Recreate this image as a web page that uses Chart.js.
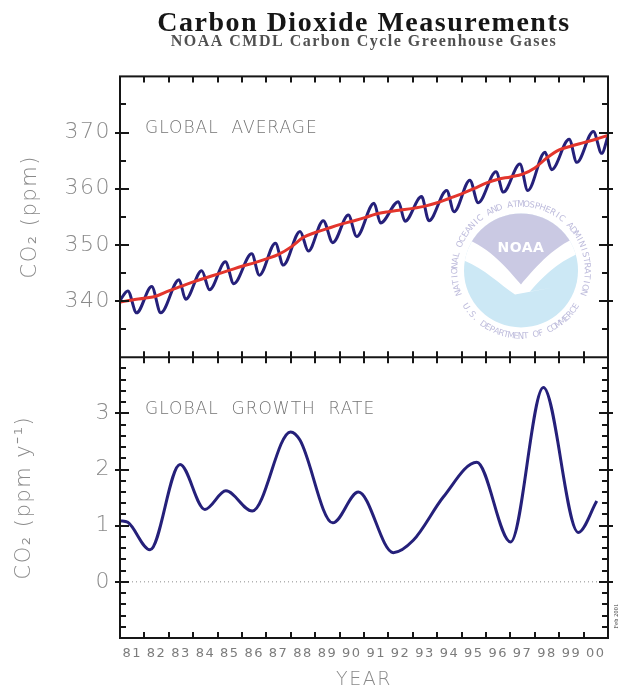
<!DOCTYPE html>
<html>
<head>
<meta charset="utf-8">
<script src="https://cdn.jsdelivr.net/npm/chart.js@4.4.1/dist/chart.umd.min.js"></script>
<style>
  html, body { margin: 0; padding: 0; background: #fff; }
  #wrap { width: 620px; height: 690px; }
</style>
</head>
<body>
<div id="wrap"><canvas id="c"></canvas></div>
<script>
// Global average CO2: seasonal maxima and minima of the monthly record (ppm)
const cycleYears = [
  1981.00, 1981.32, 1981.68, 1982.30, 1982.67, 1983.42, 1983.69, 1984.35, 1984.67,
  1985.32, 1985.66, 1986.40, 1986.71, 1987.37, 1987.69, 1988.38, 1988.72, 1989.33,
  1989.72, 1990.36, 1990.70, 1991.41, 1991.68, 1992.41, 1992.68, 1993.36, 1993.66,
  1994.39, 1994.69, 1995.34, 1995.68, 1996.41, 1996.71, 1997.39, 1997.71, 1998.42,
  1998.69, 1999.41, 1999.72, 2000.40, 2000.74, 2001.00
];
const cycleValues = [
  340.1, 341.8, 337.9, 342.6, 337.9, 343.8, 340.3, 345.4, 342.0,
  347.0, 343.1, 348.4, 344.6, 350.3, 346.4, 352.4, 348.9, 354.3,
  350.4, 355.3, 351.5, 357.4, 353.9, 357.7, 354.2, 358.6, 354.3,
  359.7, 355.9, 361.5, 357.5, 363.0, 359.4, 364.4, 359.7, 366.5,
  363.4, 368.8, 364.7, 370.2, 366.3, 369.4
];

// Deseasonalized trend (ppm)
const trendYears = [
  1981.0, 1981.5, 1982.0, 1982.5, 1983.0, 1983.5, 1984.0, 1984.5, 1985.0, 1985.5,
  1986.0, 1986.5, 1987.0, 1987.5, 1988.0, 1988.5, 1989.0, 1989.5, 1990.0, 1990.5,
  1991.0, 1991.5, 1992.0, 1992.5, 1993.0, 1993.5, 1994.0, 1994.5, 1995.0, 1995.5,
  1996.0, 1996.5, 1997.0, 1997.5, 1998.0, 1998.5, 1999.0, 1999.5, 2000.0, 2000.5,
  2001.0
];
const trendValues = [
  339.8, 340.2, 340.5, 340.9, 341.8, 342.6, 343.4, 344.1, 344.8, 345.5,
  346.2, 346.8, 347.5, 348.3, 349.6, 351.3, 352.2, 352.9, 353.6, 354.2,
  354.8, 355.5, 355.9, 356.2, 356.5, 356.9, 357.5, 358.3, 359.1, 360.0,
  361.0, 361.7, 362.1, 362.6, 363.7, 365.5, 366.9, 367.6, 368.2, 368.8,
  369.5
];

// Global growth rate (ppm per year)
const rateYears = [
  1981.00, 1981.32, 1982.23, 1983.46, 1984.48, 1985.34, 1986.42, 1987.99, 1988.38,
  1989.72, 1990.77, 1992.20, 1993.02, 1994.25, 1995.62, 1997.01, 1998.35, 1999.78,
  2000.54
];
const rateValues = [
  1.09, 1.06, 0.57, 2.09, 1.29, 1.62, 1.26, 2.67, 2.52,
  1.05, 1.60, 0.52, 0.74, 1.51, 2.13, 0.71, 3.46, 0.88,
  1.44
];

// Axis labels
const yearLabels = ['81','82','83','84','85','86','87','88','89','90',
                    '91','92','93','94','95','96','97','98','99','00'];
const co2Ticks = [340, 350, 360, 370];
const rateTicks = [0, 1, 2, 3];

const pairs = (xs, ys) => xs.map((x, i) => ({ x: x, y: ys[i] }));

const INK = '#161616';
const GREY = '#8a8a8a';
const FAMILY = '"DejaVu Sans", sans-serif';

function seg(ctx, x1, y1, x2, y2) {
  ctx.beginPath();
  ctx.moveTo(x1, y1);
  ctx.lineTo(x2, y2);
  ctx.stroke();
}

// Slightly widened lettering for every text drawn on the canvas
const spacingPlugin = {
  id: 'spacing',
  beforeLayout(chart) { chart.ctx.letterSpacing = '1.5px'; },
  beforeDraw(chart) { chart.ctx.letterSpacing = '1.5px'; }
};

// NOAA emblem behind the upper panel
function drawEmblem(ctx, cx, cy, r) {
  ctx.save();
  ctx.translate(cx, cy);

  // ring lettering
  ctx.fillStyle = '#bebcdc';
  ctx.font = '8.5px "DejaVu Sans", sans-serif';
  ctx.textAlign = 'center';
  ctx.textBaseline = 'middle';
  ctx.letterSpacing = '0px';
  const topText = 'NATIONAL OCEANIC AND ATMOSPHERIC ADMINISTRATION';
  const a0 = 158 * Math.PI / 180, a1 = 382 * Math.PI / 180;
  const R = r + 9;
  for (let i = 0; i < topText.length; i++) {
    const t = a0 + (a1 - a0) * (i + 0.5) / topText.length;
    ctx.save();
    ctx.translate(R * Math.cos(t), R * Math.sin(t));
    ctx.rotate(t + Math.PI / 2);
    ctx.fillText(topText[i], 0, 0);
    ctx.restore();
  }
  const botText = 'U.S. DEPARTMENT OF COMMERCE';
  const b0 = 149 * Math.PI / 180, b1 = 31 * Math.PI / 180;
  for (let i = 0; i < botText.length; i++) {
    const t = b0 + (b1 - b0) * (i + 0.5) / botText.length;
    ctx.save();
    ctx.translate(R * Math.cos(t), R * Math.sin(t));
    ctx.rotate(t - Math.PI / 2);
    ctx.fillText(botText[i], 0, 0);
    ctx.restore();
  }

  // disc
  ctx.beginPath();
  ctx.arc(0, 0, r, 0, Math.PI * 2);
  ctx.fillStyle = '#cce8f5';
  ctx.fill();
  ctx.clip();

  // white gull
  ctx.beginPath();
  ctx.moveTo(-70, -70);
  ctx.lineTo(-70, -14);
  ctx.bezierCurveTo(-42, -8, -24, 12, -6, 24);
  ctx.lineTo(32, 17);
  ctx.lineTo(9, 21);
  ctx.bezierCurveTo(24, 4, 40, -12, 70, -22);
  ctx.lineTo(70, -70);
  ctx.closePath();
  ctx.fillStyle = '#ffffff';
  ctx.fill();

  // upper field
  ctx.beginPath();
  ctx.moveTo(-70, -70);
  ctx.lineTo(-70, -36);
  ctx.bezierCurveTo(-36, -30, -14, -2, 0, 14);
  ctx.bezierCurveTo(14, -2, 36, -30, 70, -38);
  ctx.lineTo(70, -70);
  ctx.closePath();
  ctx.fillStyle = '#cac9e3';
  ctx.fill();

  ctx.fillStyle = '#ffffff';
  ctx.font = 'bold 14px "DejaVu Sans", sans-serif';
  ctx.letterSpacing = '0.5px';
  ctx.fillText('NOAA', 0, -22);
  ctx.restore();
}

const decorPlugin = {
  id: 'decor',
  beforeDatasetsDraw(chart) {
    const { ctx, chartArea: a } = chart;
    const yTop = chart.scales.yTop;
    drawEmblem(ctx, a.right - 87, yTop.top + 194, 57);
  },
  afterDatasetsDraw(chart) {
    const { ctx, chartArea: a } = chart;
    const { x, yTop, yBot } = chart.scales;
    ctx.save();
    ctx.letterSpacing = '0px';

    // zero reference in the growth-rate panel
    const y0 = yBot.getPixelForValue(0);
    ctx.strokeStyle = '#8c8c8c';
    ctx.lineWidth = 1;
    ctx.setLineDash([1, 3]);
    seg(ctx, a.left, y0, a.right, y0);
    ctx.setLineDash([]);

    // frame and panel divider
    ctx.strokeStyle = INK;
    ctx.lineWidth = 2;
    const mid = yTop.bottom;
    ctx.strokeRect(a.left, a.top, a.right - a.left, a.bottom - a.top);
    seg(ctx, a.left, mid, a.right, mid);

    // year ticks
    for (let yr = Math.floor(x.min) + 1; yr < x.max; yr++) {
      const px = Math.round(x.getPixelForValue(yr));
      seg(ctx, px, a.top, px, a.top + 6);
      seg(ctx, px, mid - 6, px, mid + 6);
      seg(ctx, px, a.bottom - 6, px, a.bottom);
    }

    // value ticks on both sides
    const valueTicks = (scale, step, perMajor) => {
      const k0 = Math.round(scale.min / step) + 1;
      const k1 = Math.round(scale.max / step) - 1;
      for (let k = k0; k <= k1; k++) {
        const py = Math.round(scale.getPixelForValue(k * step));
        if (k % perMajor === 0) {
          seg(ctx, a.left - 5, py, a.left + 9, py);
          seg(ctx, a.right - 9, py, a.right + 5, py);
        } else {
          seg(ctx, a.left, py, a.left + 6, py);
          seg(ctx, a.right - 6, py, a.right, py);
        }
      }
    };
    valueTicks(yTop, 5, 2);
    valueTicks(yBot, 0.2, 5);

    // panel captions
    ctx.fillStyle = '#747474';
    ctx.font = '200 17px "DejaVu Sans", sans-serif';
    ctx.letterSpacing = '1px';
    ctx.textBaseline = 'middle';
    ctx.textAlign = 'left';
    ctx.fillText('GLOBAL  AVERAGE', a.left + 25, yTop.top + 52);
    ctx.fillText('GLOBAL  GROWTH  RATE', a.left + 25, yBot.top + 52);

    // small date stamp beside the lower right corner
    ctx.save();
    ctx.translate(a.right + 8.5, a.bottom - 22);
    ctx.rotate(-Math.PI / 2);
    ctx.fillStyle = '#333333';
    ctx.font = '6px "Liberation Serif", serif';
    ctx.letterSpacing = '0.3px';
    ctx.textAlign = 'center';
    ctx.fillText('Feb 2001', 0, 0);
    ctx.restore();

    ctx.restore();
  }
};

const tickFont = { family: FAMILY, size: 22, weight: '200' };
const axisTitleFont = { family: FAMILY, size: 21, weight: '200', lineHeight: 1.2 };

new Chart(document.getElementById('c'), {
  type: 'line',
  data: {
    datasets: [
      {
        label: 'Trend',
        data: pairs(trendYears, trendValues),
        yAxisID: 'yTop',
        borderColor: '#e3352c',
        borderWidth: 3,
        pointRadius: 0,
        cubicInterpolationMode: 'monotone',
        order: 0
      },
      {
        label: 'Monthly mean',
        data: pairs(cycleYears, cycleValues),
        yAxisID: 'yTop',
        borderColor: '#25207a',
        borderWidth: 3,
        pointRadius: 0,
        cubicInterpolationMode: 'monotone',
        order: 1
      },
      {
        label: 'Growth rate',
        data: pairs(rateYears, rateValues),
        yAxisID: 'yBot',
        borderColor: '#25207a',
        borderWidth: 3,
        pointRadius: 0,
        cubicInterpolationMode: 'monotone',
        order: 2
      }
    ]
  },
  options: {
    responsive: true,
    maintainAspectRatio: false,
    animation: false,
    events: [],
    layout: { padding: { top: 0, right: 12, bottom: 0, left: 0 } },
    plugins: {
      legend: { display: false },
      tooltip: { enabled: false },
      title: {
        display: true,
        fullSize: false,
        text: 'Carbon Dioxide Measurements',
        color: '#161616',
        font: { family: '"Liberation Serif", "Times New Roman", serif', size: 28, weight: 'bold', lineHeight: 0.6 },
        padding: { top: 15, bottom: 2 }
      },
      subtitle: {
        display: true,
        fullSize: false,
        text: 'NOAA CMDL Carbon Cycle Greenhouse Gases',
        color: '#505050',
        font: { family: '"Liberation Serif", "Times New Roman", serif', size: 16, weight: 'bold', lineHeight: 1 },
        padding: { top: 0, bottom: 26.6 }
      }
    },
    scales: {
      x: {
        type: 'linear',
        position: 'bottom',
        min: 1981,
        max: 2001,
        grid: { display: false, drawTicks: false },
        border: { display: false },
        afterBuildTicks: (s) => { s.ticks = yearLabels.map((_, i) => ({ value: 1981.5 + i })); },
        afterFit: (s) => { s.height = 52; },
        ticks: {
          autoSkip: false,
          maxRotation: 0,
          padding: 8,
          color: '#7c7c7c',
          font: { family: FAMILY, size: 13 },
          callback: (v, i) => yearLabels[i]
        },
        title: {
          display: true,
          text: 'YEAR',
          color: GREY,
          font: { family: FAMILY, size: 19, weight: '200', lineHeight: 1 },
          padding: { top: 0, bottom: 0 }
        }
      },
      yBot: {
        type: 'linear',
        position: 'left',
        stack: 'panels',
        stackWeight: 1,
        min: -1,
        max: 4,
        grid: { display: false, drawTicks: false },
        border: { display: false },
        afterBuildTicks: (s) => { s.ticks = rateTicks.map(v => ({ value: v })); },
        afterFit: (s) => { s.width = 120; },
        ticks: { padding: 9, color: GREY, font: tickFont },
        title: {
          display: true,
          text: 'CO₂ (ppm y⁻¹)',
          color: GREY,
          font: axisTitleFont,
          padding: { top: 12, bottom: 0 }
        }
      },
      yTop: {
        type: 'linear',
        position: 'left',
        stack: 'panels',
        stackWeight: 1,
        min: 330,
        max: 380,
        grid: { display: false, drawTicks: false },
        border: { display: false },
        afterBuildTicks: (s) => { s.ticks = co2Ticks.map(v => ({ value: v })); },
        afterFit: (s) => { s.width = 120; },
        ticks: { padding: 9, color: GREY, font: tickFont },
        title: {
          display: true,
          text: 'CO₂ (ppm)',
          color: GREY,
          font: axisTitleFont,
          padding: { top: 18, bottom: 0 }
        }
      }
    }
  },
  plugins: [spacingPlugin, decorPlugin]
});
</script>
</body>
</html>
